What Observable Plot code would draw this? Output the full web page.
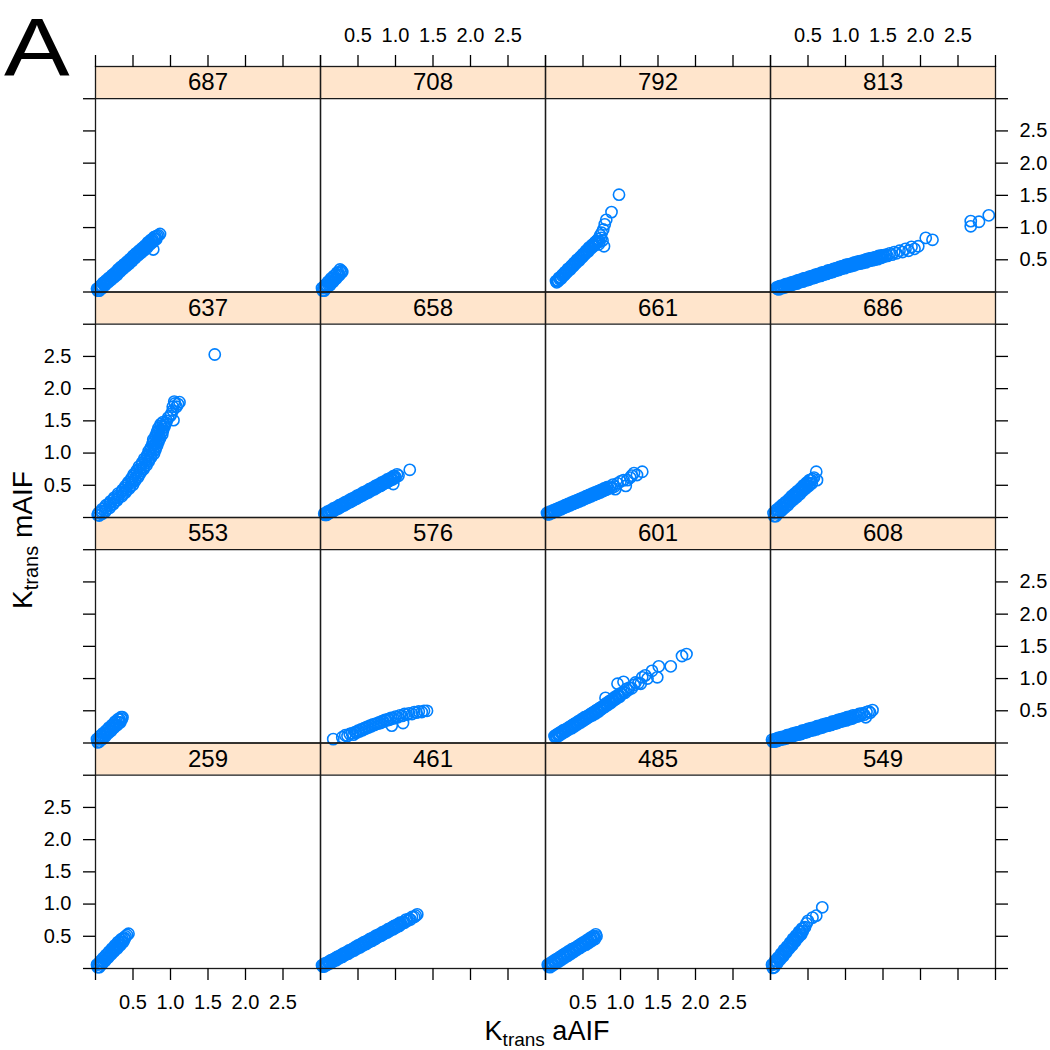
<!DOCTYPE html>
<html>
<head>
<meta charset="utf-8">
<script src="https://cdn.jsdelivr.net/npm/d3@7"></script>
<script src="https://cdn.jsdelivr.net/npm/@observablehq/plot@0.6"></script>
<style>
  html, body { margin: 0; padding: 0; background: #fff; }
  #wrap { position: relative; width: 1050px; height: 1050px; }
  #wrap > svg { position: absolute; left: 0; top: 0; }
  #overlay { pointer-events: none; }
</style>
</head>
<body>
<div id="wrap"></div>
<script>
// ---- Panel identifiers (layout rows from top) ----
const panelRows = [
  ["687", "708", "792", "813"],
  ["637", "658", "661", "686"],
  ["553", "576", "601", "608"],
  ["259", "461", "485", "549"]
];

// ---- Tick values / labels (shared by x and y) ----
const tickValues = [0, 0.5, 1, 1.5, 2, 2.5, 3];
const tickLabels = ["", "0.5", "1.0", "1.5", "2.0", "2.5", ""];

// ---- Data: [Ktrans aAIF, Ktrans mAIF] per panel ----
const p687 = [[.02,.05],[.03,.02],[.04,.06],[.05,.02],[.06,.09],[.07,.06],[.08,.10],[.09,.06],[.10,.14],[.11,.11],[.12,.15],[.13,.11],[.14,.18],[.15,.15],[.16,.19],[.17,.15],[.18,.22],[.19,.19],[.20,.23],[.21,.19],[.22,.26],[.23,.23],[.24,.27],[.25,.23],[.26,.30],[.27,.27],[.28,.31],[.29,.27],[.30,.35],[.31,.32],[.32,.36],[.33,.32],[.34,.39],[.35,.36],[.36,.40],[.37,.36],[.38,.43],[.39,.40],[.40,.44],[.41,.40],[.42,.47],[.43,.44],[.44,.48],[.45,.44],[.46,.51],[.47,.48],[.48,.52],[.49,.48],[.50,.56],[.51,.53],[.52,.57],[.53,.53],[.54,.60],[.55,.57],[.56,.61],[.57,.57],[.58,.64],[.59,.61],[.60,.65],[.61,.61],[.62,.68],[.63,.65],[.64,.69],[.65,.65],[.66,.72],[.67,.69],[.68,.73],[.69,.69],[.70,.77],[.71,.74],[.72,.78],[.73,.74],[.74,.81],[.75,.78],[.76,.82],[.77,.78],[.78,.85],[.79,.82],[.80,.86],[.81,.82],[.82,.87],[.84,.88],[.86,.90],[.77,.66]];
const p708 = [[.02,.06],[.03,.02],[.04,.07],[.05,.02],[.06,.11],[.07,.06],[.08,.11],[.09,.07],[.10,.16],[.11,.11],[.12,.16],[.13,.11],[.14,.21],[.15,.16],[.16,.21],[.17,.16],[.18,.25],[.19,.20],[.20,.26],[.21,.21],[.22,.30],[.23,.25],[.24,.30],[.25,.26],[.26,.35],[.27,.30],[.28,.33],[.29,.31]];
const p792 = [[.14,.17],[.15,.15],[.16,.18],[.17,.17],[.18,.22],[.19,.20],[.20,.23],[.21,.21],[.22,.26],[.23,.25],[.24,.28],[.25,.26],[.26,.31],[.27,.29],[.28,.32],[.29,.31],[.30,.36],[.31,.34],[.32,.37],[.33,.35],[.34,.40],[.35,.39],[.36,.42],[.37,.40],[.38,.45],[.39,.43],[.40,.46],[.41,.45],[.42,.50],[.43,.48],[.44,.51],[.45,.49],[.46,.54],[.47,.53],[.48,.56],[.49,.54],[.50,.59],[.51,.57],[.52,.60],[.53,.59],[.54,.64],[.55,.62],[.56,.65],[.57,.63],[.58,.69],[.59,.67],[.60,.70],[.61,.68],[.62,.73],[.63,.71],[.64,.74],[.65,.72],[.66,.77],[.67,.76],[.68,.79],[.69,.77],[.70,.82],[.72,.78],[.74,.84],[.71,.74],[.76,.80],[.73,.88],[.75,.92],[.78,.71],[.77,.97],[.79,1.05],[.81,1.12],[.88,1.24],[.98,1.51]];
const p813 = [[.08,.07],[.09,.05],[.10,.07],[.11,.04],[.12,.09],[.13,.06],[.14,.09],[.15,.06],[.16,.10],[.17,.08],[.18,.10],[.19,.07],[.20,.12],[.21,.09],[.22,.12],[.23,.09],[.24,.13],[.25,.11],[.26,.13],[.27,.10],[.28,.15],[.29,.12],[.30,.15],[.31,.12],[.32,.16],[.33,.14],[.34,.16],[.35,.13],[.36,.18],[.37,.15],[.38,.18],[.39,.15],[.40,.19],[.41,.17],[.42,.19],[.43,.16],[.44,.21],[.45,.18],[.46,.21],[.47,.18],[.48,.22],[.49,.20],[.50,.22],[.51,.19],[.52,.24],[.53,.21],[.54,.24],[.55,.21],[.56,.25],[.57,.23],[.58,.25],[.59,.22],[.60,.27],[.61,.24],[.62,.27],[.63,.24],[.64,.28],[.65,.26],[.66,.28],[.67,.25],[.68,.30],[.69,.27],[.70,.30],[.71,.27],[.72,.31],[.73,.29],[.74,.31],[.75,.28],[.76,.33],[.77,.30],[.78,.33],[.79,.30],[.80,.34],[.81,.32],[.82,.34],[.83,.31],[.84,.36],[.85,.33],[.86,.36],[.87,.33],[.88,.37],[.89,.35],[.90,.37],[.91,.34],[.92,.39],[.93,.36],[.94,.39],[.95,.36],[.96,.40],[.97,.38],[.98,.40],[.99,.37],[1.00,.42],[1.01,.39],[1.02,.42],[1.03,.39],[1.04,.43],[1.05,.41],[1.06,.43],[1.07,.40],[1.08,.44],[1.09,.42],[1.10,.44],[1.11,.41],[1.12,.46],[1.13,.43],[1.14,.45],[1.15,.43],[1.16,.47],[1.17,.44],[1.18,.47],[1.19,.44],[1.20,.48],[1.21,.46],[1.22,.48],[1.23,.45],[1.24,.49],[1.25,.47],[1.26,.49],[1.27,.46],[1.28,.51],[1.29,.48],[1.30,.50],[1.31,.48],[1.32,.52],[1.33,.49],[1.34,.52],[1.35,.49],[1.36,.53],[1.37,.51],[1.38,.53],[1.39,.50],[1.40,.54],[1.41,.52],[1.42,.54],[1.43,.51],[1.44,.56],[1.45,.53],[1.46,.55],[1.47,.53],[1.48,.57],[1.49,.54],[1.50,.57],[1.52,.55],[1.54,.58],[1.56,.56],[1.59,.60],[1.62,.58],[1.65,.62],[1.68,.60],[1.72,.64],[1.76,.62],[1.80,.67],[1.84,.64],[1.88,.70],[1.92,.67],[1.97,.71],[2.07,.84],[2.16,.81],[2.67,1.10],[2.67,1.02],[2.78,1.09],[2.91,1.19]];
const p637 = [[.05,.03],[.03,.04],[.09,.06],[.04,.07],[.13,.09],[.08,.10],[.14,.12],[.09,.13],[.19,.15],[.13,.16],[.19,.18],[.14,.19],[.24,.21],[.19,.22],[.25,.24],[.20,.25],[.29,.27],[.24,.28],[.30,.30],[.25,.31],[.35,.33],[.30,.34],[.36,.36],[.30,.37],[.40,.39],[.35,.40],[.41,.42],[.36,.43],[.45,.45],[.40,.46],[.46,.48],[.40,.49],[.50,.51],[.44,.52],[.49,.54],[.44,.55],[.53,.57],[.48,.58],[.53,.60],[.48,.61],[.57,.63],[.51,.64],[.57,.66],[.51,.67],[.60,.69],[.55,.70],[.60,.72],[.55,.73],[.64,.75],[.59,.76],[.64,.78],[.58,.79],[.68,.81],[.62,.82],[.67,.84],[.62,.85],[.71,.87],[.66,.88],[.71,.90],[.65,.91],[.74,.93],[.69,.94],[.74,.96],[.69,.97],[.78,.99],[.72,1.00],[.77,1.02],[.71,1.03],[.80,1.05],[.74,1.06],[.79,1.08],[.74,1.09],[.82,1.11],[.77,1.12],[.81,1.14],[.76,1.15],[.84,1.17],[.78,1.18],[.83,1.20],[.77,1.21],[.86,1.23],[.81,1.24],[.85,1.26],[.80,1.27],[.89,1.29],[.83,1.30],[.88,1.32],[.82,1.33],[.90,1.35],[.85,1.36],[.89,1.38],[.84,1.39],[.92,1.41],[.87,1.42],[.92,1.44],[.87,1.45],[.94,1.47],[.90,1.48],[.95,1.50],[.97,1.55],[1.00,1.58],[1.01,1.61],[1.04,1.51],[1.03,1.66],[1.03,1.72],[1.06,1.77],[1.08,1.72],[1.10,1.76],[1.12,1.79],[1.05,1.80],[1.59,2.53]];
const p658 = [[.05,.06],[.06,.04],[.07,.06],[.08,.04],[.09,.09],[.10,.06],[.11,.09],[.12,.07],[.13,.11],[.14,.09],[.15,.11],[.16,.09],[.17,.14],[.18,.11],[.19,.14],[.20,.12],[.21,.16],[.22,.14],[.23,.16],[.24,.14],[.25,.19],[.26,.16],[.27,.19],[.28,.17],[.29,.21],[.30,.19],[.31,.21],[.32,.19],[.33,.24],[.34,.21],[.35,.24],[.36,.22],[.37,.26],[.38,.24],[.39,.26],[.40,.24],[.41,.29],[.42,.26],[.43,.29],[.44,.27],[.45,.31],[.46,.29],[.47,.31],[.48,.29],[.49,.34],[.50,.31],[.51,.34],[.52,.32],[.53,.36],[.54,.34],[.55,.36],[.56,.34],[.57,.39],[.58,.36],[.59,.39],[.60,.37],[.61,.41],[.62,.39],[.63,.41],[.64,.39],[.65,.44],[.66,.41],[.67,.44],[.68,.42],[.69,.46],[.70,.44],[.71,.46],[.72,.44],[.73,.49],[.74,.46],[.75,.49],[.76,.47],[.77,.51],[.78,.49],[.79,.51],[.80,.49],[.81,.54],[.82,.51],[.83,.54],[.84,.52],[.85,.56],[.86,.54],[.87,.56],[.88,.54],[.89,.59],[.90,.56],[.91,.59],[.92,.57],[.93,.61],[.94,.59],[.95,.61],[.96,.59],[.97,.64],[.98,.61],[.99,.64],[1.00,.62],[1.02,.67],[1.04,.65],[.97,.52],[1.19,.74]];
const p661 = [[.02,.07],[.03,.05],[.04,.07],[.05,.05],[.06,.09],[.07,.07],[.08,.09],[.09,.07],[.10,.11],[.11,.09],[.12,.11],[.13,.09],[.14,.13],[.15,.11],[.16,.13],[.17,.11],[.18,.15],[.19,.13],[.20,.15],[.21,.13],[.22,.17],[.23,.15],[.24,.17],[.25,.15],[.26,.19],[.27,.17],[.28,.19],[.29,.17],[.30,.21],[.31,.19],[.32,.21],[.33,.19],[.34,.23],[.35,.21],[.36,.23],[.37,.21],[.38,.25],[.39,.23],[.40,.25],[.41,.23],[.42,.27],[.43,.25],[.44,.27],[.45,.25],[.46,.29],[.47,.27],[.48,.29],[.49,.27],[.50,.31],[.51,.29],[.52,.31],[.53,.29],[.54,.33],[.55,.31],[.56,.33],[.57,.31],[.58,.35],[.59,.33],[.60,.35],[.61,.33],[.62,.37],[.63,.35],[.64,.37],[.65,.35],[.66,.39],[.67,.37],[.68,.39],[.69,.37],[.70,.41],[.71,.39],[.72,.41],[.73,.39],[.74,.43],[.75,.41],[.76,.43],[.77,.41],[.78,.45],[.79,.43],[.80,.45],[.81,.43],[.82,.47],[.84,.45],[.86,.48],[.88,.46],[.90,.51],[.93,.44],[.92,.48],[.96,.53],[1.00,.56],[1.04,.58],[1.07,.49],[1.09,.58],[1.13,.62],[1.15,.65],[1.18,.69],[1.22,.66],[1.29,.71]];
const p686 = [[.04,.07],[.05,.02],[.06,.07],[.07,.02],[.08,.12],[.09,.07],[.10,.12],[.11,.07],[.12,.16],[.13,.11],[.14,.16],[.15,.11],[.16,.20],[.17,.15],[.18,.20],[.19,.15],[.20,.24],[.21,.19],[.22,.24],[.23,.19],[.24,.28],[.25,.24],[.26,.29],[.27,.24],[.28,.33],[.29,.28],[.30,.33],[.31,.28],[.32,.37],[.33,.32],[.34,.37],[.35,.32],[.36,.41],[.37,.36],[.38,.41],[.39,.36],[.40,.45],[.41,.41],[.42,.46],[.43,.41],[.44,.50],[.45,.45],[.46,.50],[.47,.45],[.48,.54],[.49,.49],[.50,.54],[.51,.49],[.52,.58],[.53,.53],[.54,.58],[.55,.53],[.56,.60],[.58,.62],[.62,.58],[.61,.71]];
const p553 = [[.02,.06],[.03,.01],[.04,.06],[.05,.02],[.06,.11],[.07,.06],[.08,.11],[.09,.06],[.10,.15],[.11,.10],[.12,.15],[.13,.10],[.14,.19],[.15,.15],[.16,.20],[.17,.15],[.18,.24],[.19,.19],[.20,.24],[.21,.19],[.22,.28],[.23,.23],[.24,.28],[.25,.24],[.26,.33],[.27,.28],[.28,.33],[.29,.28],[.30,.37],[.31,.32],[.32,.37],[.33,.32],[.34,.40],[.35,.37],[.36,.40]];
const p576 = [[.17,.06],[.29,.09],[.33,.12],[.36,.11],[.39,.14],[.42,.15],[.44,.13],[.46,.17],[.48,.16],[.50,.19],[.52,.18],[.54,.21],[.56,.20],[.58,.23],[.60,.22],[.62,.25],[.64,.24],[.66,.27],[.68,.26],[.70,.29],[.72,.28],[.74,.30],[.76,.30],[.78,.32],[.80,.31],[.82,.34],[.84,.33],[.86,.36],[.88,.35],[.90,.37],[.92,.36],[.95,.27],[.94,.39],[.97,.38],[1.00,.41],[1.03,.40],[1.06,.43],[1.10,.31],[1.09,.42],[1.12,.45],[1.15,.44],[1.18,.46],[1.22,.45],[1.25,.48],[1.28,.47],[1.31,.49],[1.35,.48],[1.38,.50],[1.42,.50]];
const p601 = [[.12,.11],[.13,.09],[.14,.12],[.15,.09],[.16,.14],[.17,.12],[.18,.14],[.19,.12],[.20,.17],[.21,.15],[.22,.17],[.23,.15],[.24,.20],[.25,.17],[.26,.20],[.27,.18],[.28,.22],[.29,.20],[.30,.23],[.31,.21],[.32,.25],[.33,.23],[.34,.26],[.35,.23],[.36,.28],[.37,.26],[.38,.29],[.39,.26],[.40,.31],[.41,.29],[.42,.31],[.43,.29],[.44,.34],[.45,.32],[.46,.34],[.47,.32],[.48,.37],[.49,.34],[.50,.37],[.51,.35],[.52,.40],[.53,.37],[.54,.40],[.55,.38],[.56,.42],[.57,.40],[.58,.43],[.59,.41],[.60,.45],[.61,.43],[.62,.46],[.63,.43],[.64,.48],[.65,.46],[.66,.49],[.67,.46],[.68,.51],[.69,.49],[.70,.52],[.71,.49],[.72,.54],[.73,.52],[.74,.55],[.75,.53],[.76,.57],[.77,.55],[.78,.58],[.79,.56],[.80,.61],[.81,.59],[.82,.61],[.83,.59],[.84,.64],[.85,.62],[.86,.65],[.87,.62],[.88,.67],[.89,.65],[.90,.68],[.91,.66],[.92,.71],[.93,.68],[.94,.71],[.95,.69],[.96,.74],[.97,.72],[.98,.74],[.99,.72],[1.00,.77],[1.02,.76],[1.04,.79],[1.06,.78],[1.08,.84],[1.10,.82],[1.12,.86],[1.15,.85],[.80,.70],[.96,.92],[1.04,.95],[1.18,.90],[1.20,.94],[1.24,.93],[1.27,.92],[1.29,1.02],[1.33,1.05],[1.36,1.00],[1.42,1.12],[1.49,1.02],[1.51,1.19],[1.67,1.19],[1.82,1.35],[1.88,1.38]];
const p608 = [[.02,.05],[.03,.02],[.04,.04],[.05,.02],[.06,.06],[.07,.03],[.08,.06],[.09,.03],[.10,.08],[.11,.05],[.12,.07],[.13,.05],[.14,.09],[.15,.06],[.16,.09],[.17,.06],[.18,.10],[.19,.08],[.20,.10],[.21,.07],[.22,.12],[.23,.09],[.24,.11],[.25,.09],[.26,.13],[.27,.10],[.28,.13],[.29,.10],[.30,.15],[.31,.12],[.32,.14],[.33,.12],[.34,.16],[.35,.13],[.36,.16],[.37,.13],[.38,.17],[.39,.15],[.40,.17],[.41,.14],[.42,.19],[.43,.16],[.44,.18],[.45,.16],[.46,.20],[.47,.17],[.48,.20],[.49,.17],[.50,.22],[.51,.19],[.52,.21],[.53,.19],[.54,.23],[.55,.20],[.56,.23],[.57,.20],[.58,.24],[.59,.22],[.60,.24],[.61,.21],[.62,.26],[.63,.23],[.64,.25],[.65,.23],[.66,.27],[.67,.24],[.68,.27],[.69,.24],[.70,.29],[.71,.26],[.72,.28],[.73,.26],[.74,.30],[.75,.27],[.76,.30],[.77,.27],[.78,.31],[.79,.29],[.80,.31],[.81,.28],[.82,.33],[.83,.30],[.84,.32],[.85,.30],[.86,.34],[.87,.31],[.88,.34],[.89,.31],[.90,.36],[.91,.33],[.92,.35],[.93,.33],[.94,.37],[.95,.34],[.96,.37],[.97,.34],[.98,.38],[.99,.36],[1.00,.38],[1.01,.35],[1.02,.40],[1.03,.37],[1.04,.39],[1.05,.37],[1.06,.41],[1.07,.38],[1.08,.41],[1.09,.38],[1.10,.43],[1.12,.40],[1.14,.43],[1.16,.41],[1.18,.45],[1.20,.43],[1.22,.46],[1.25,.44],[1.27,.40],[1.28,.48],[1.31,.49],[1.33,.47],[1.36,.51]];
const p259 = [[.02,.06],[.03,.02],[.04,.07],[.05,.02],[.06,.11],[.07,.07],[.08,.12],[.09,.07],[.10,.16],[.11,.11],[.12,.17],[.13,.12],[.14,.21],[.15,.16],[.16,.22],[.17,.17],[.18,.26],[.19,.21],[.20,.26],[.21,.22],[.22,.31],[.23,.26],[.24,.31],[.25,.27],[.26,.36],[.27,.31],[.28,.36],[.29,.31],[.30,.41],[.31,.36],[.32,.41],[.33,.36],[.34,.45],[.35,.41],[.36,.46],[.37,.41],[.38,.48],[.39,.46],[.40,.50],[.42,.52],[.44,.54]];
const p461 = [[.02,.05],[.03,.03],[.04,.06],[.05,.03],[.06,.08],[.07,.05],[.08,.08],[.09,.06],[.10,.10],[.11,.08],[.12,.11],[.13,.08],[.14,.13],[.15,.10],[.16,.13],[.17,.11],[.18,.15],[.19,.13],[.20,.16],[.21,.13],[.22,.18],[.23,.16],[.24,.18],[.25,.16],[.26,.20],[.27,.18],[.28,.21],[.29,.18],[.30,.23],[.31,.21],[.32,.23],[.33,.21],[.34,.25],[.35,.23],[.36,.26],[.37,.23],[.38,.28],[.39,.26],[.40,.28],[.41,.26],[.42,.30],[.43,.28],[.44,.31],[.45,.28],[.46,.33],[.47,.31],[.48,.33],[.49,.31],[.50,.36],[.51,.33],[.52,.36],[.53,.33],[.54,.38],[.55,.36],[.56,.38],[.57,.36],[.58,.41],[.59,.38],[.60,.41],[.61,.38],[.62,.43],[.63,.41],[.64,.43],[.65,.41],[.66,.46],[.67,.43],[.68,.46],[.69,.43],[.70,.48],[.71,.46],[.72,.48],[.73,.46],[.74,.51],[.75,.48],[.76,.51],[.77,.49],[.78,.53],[.79,.51],[.80,.53],[.81,.51],[.82,.56],[.83,.53],[.84,.56],[.85,.54],[.86,.58],[.87,.56],[.88,.58],[.89,.56],[.90,.61],[.91,.58],[.92,.61],[.93,.59],[.94,.63],[.95,.61],[.96,.64],[.97,.61],[.98,.66],[.99,.63],[1.00,.66],[1.01,.64],[1.02,.68],[1.03,.66],[1.04,.69],[1.05,.66],[1.06,.71],[1.08,.69],[1.10,.72],[1.12,.71],[1.14,.76],[1.16,.74],[1.18,.77],[1.20,.76],[1.22,.80],[1.25,.80],[1.27,.82],[1.29,.84]];
const p485 = [[.03,.06],[.04,.03],[.05,.06],[.06,.02],[.07,.09],[.08,.06],[.09,.09],[.10,.05],[.11,.12],[.12,.09],[.13,.12],[.14,.08],[.15,.15],[.16,.12],[.17,.14],[.18,.11],[.19,.18],[.20,.15],[.21,.17],[.22,.14],[.23,.21],[.24,.18],[.25,.20],[.26,.17],[.27,.24],[.28,.20],[.29,.23],[.30,.20],[.31,.27],[.32,.23],[.33,.26],[.34,.23],[.35,.30],[.36,.26],[.37,.29],[.38,.26],[.39,.32],[.40,.29],[.41,.32],[.42,.29],[.43,.35],[.44,.32],[.45,.35],[.46,.32],[.47,.38],[.48,.35],[.49,.38],[.50,.35],[.51,.41],[.52,.38],[.53,.41],[.54,.37],[.55,.44],[.56,.41],[.57,.44],[.58,.40],[.59,.47],[.60,.44],[.61,.47],[.62,.43],[.63,.50],[.64,.47],[.65,.50],[.66,.46],[.67,.53],[.68,.50]];
const p549 = [[.02,.06],[.03,.01],[.04,.07],[.05,.02],[.06,.12],[.07,.07],[.08,.12],[.09,.08],[.10,.17],[.11,.13],[.12,.18],[.13,.14],[.14,.23],[.15,.18],[.16,.24],[.17,.19],[.18,.29],[.19,.24],[.20,.29],[.21,.25],[.22,.34],[.23,.30],[.24,.35],[.25,.31],[.26,.40],[.27,.35],[.28,.41],[.29,.36],[.30,.46],[.31,.41],[.32,.46],[.33,.42],[.34,.51],[.35,.47],[.36,.52],[.37,.48],[.38,.57],[.39,.52],[.40,.58],[.41,.53],[.42,.62],[.43,.58],[.44,.63],[.46,.64],[.48,.70],[.50,.74],[.56,.79],[.61,.82],[.69,.95]];

const panelData = {
  "687": p687, "708": p708, "792": p792, "813": p813,
  "637": p637, "658": p658, "661": p661, "686": p686,
  "553": p553, "576": p576, "601": p601, "608": p608,
  "259": p259, "461": p461, "485": p485, "549": p549
};

// ---- Derived tables for Plot ----
const panels = panelRows.flatMap((r, row) => r.map((id, col) => ({id, row, col})));
const points = panels.flatMap(p => panelData[p.id].map(([x, y]) => ({x, y, row: p.row, col: p.col})));
const labelled = tickValues.map((v, i) => ({v, label: tickLabels[i]})).filter(d => d.label !== "");
const labelsFor = (cells) => cells.flatMap(([row, col]) => labelled.map(d => ({...d, row, col})));
const topLabels = labelsFor([[0, 1], [0, 3]]);
const bottomLabels = labelsFor([[3, 0], [3, 2]]);
const leftLabels = labelsFor([[1, 0], [3, 0]]);
const rightLabels = labelsFor([[0, 3], [2, 3]]);

const dataMax = 3;      // top of the data area of each panel
const stripTop = 3.5;   // strip occupies the band above the data area
const lineColor = "#1a1a1a";
const pointColor = "#0080ff";
const stripColor = "#ffe5cc";

const chart = Plot.plot({
  width: 1050,
  height: 1050,
  marginTop: 66,
  marginBottom: 82,
  marginLeft: 95,
  marginRight: 55,
  x: {domain: [0, dataMax], axis: null, label: null},
  y: {domain: [0, stripTop], axis: null, label: null},
  fx: {domain: [0, 1, 2, 3], padding: 0, axis: null, round: false},
  fy: {domain: [0, 1, 2, 3], padding: 0, axis: null, round: false},
  style: {fontFamily: "'Liberation Sans', Arial, Helvetica, sans-serif", fontSize: "20px", color: "#000", background: "transparent"},
  marks: [
    Plot.rect(panels, {fx: "col", fy: "row", x1: 0, x2: dataMax, y1: dataMax, y2: stripTop, fill: stripColor}),
    Plot.ruleY(panels, {fx: "col", fy: "row", y: () => dataMax, stroke: lineColor, strokeWidth: 1.3}),
    Plot.text(panels, {fx: "col", fy: "row", text: "id", frameAnchor: "top", lineAnchor: "middle", dy: 16, fontSize: 24}),
    Plot.dot(points, {x: "x", y: "y", fx: "col", fy: "row", r: 5.6, stroke: pointColor, strokeWidth: 1.6, fill: "none"}),
    Plot.frame({stroke: lineColor, strokeWidth: 1.3}),
    Plot.axisX(tickValues, {anchor: "top", facetAnchor: "top", tickSize: 12, tickFormat: () => "", label: null, strokeWidth: 1.3}),
    Plot.axisX(tickValues, {anchor: "bottom", facetAnchor: "bottom", tickSize: 12, tickFormat: () => "", label: null, strokeWidth: 1.3}),
    Plot.axisY(tickValues, {anchor: "left", facetAnchor: "left", tickSize: 12, tickFormat: () => "", label: null, strokeWidth: 1.3}),
    Plot.axisY(tickValues, {anchor: "right", facetAnchor: "right", tickSize: 12, tickFormat: () => "", label: null, strokeWidth: 1.3}),
    Plot.text(topLabels, {x: "v", fx: "col", fy: "row", text: "label", frameAnchor: "top", lineAnchor: "middle", dy: -31}),
    Plot.text(bottomLabels, {x: "v", fx: "col", fy: "row", text: "label", frameAnchor: "bottom", lineAnchor: "middle", dy: 34}),
    Plot.text(leftLabels, {y: "v", fx: "col", fy: "row", text: "label", frameAnchor: "left", textAnchor: "end", dx: -24}),
    Plot.text(rightLabels, {y: "v", fx: "col", fy: "row", text: "label", frameAnchor: "right", textAnchor: "start", dx: 24})
  ]
});

const wrap = document.getElementById("wrap");
wrap.appendChild(chart);

// ---- Figure letter and axis titles ----
const ns = "http://www.w3.org/2000/svg";
const overlay = document.createElementNS(ns, "svg");
overlay.setAttribute("id", "overlay");
overlay.setAttribute("width", 1050);
overlay.setAttribute("height", 1050);
overlay.setAttribute("font-family", "'Liberation Sans', Arial, Helvetica, sans-serif");
overlay.innerHTML = `
  <text transform="translate(4,75) scale(1.2,1)" font-size="82">A</text>
  <text x="547" y="1040" font-size="27" text-anchor="middle">K<tspan font-size="19" dy="6">trans</tspan><tspan dy="-6"> aAIF</tspan></text>
  <text transform="translate(32,540) rotate(-90)" font-size="28" text-anchor="middle">K<tspan font-size="20" dy="6">trans</tspan><tspan dy="-6"> mAIF</tspan></text>
`;
wrap.appendChild(overlay);
</script>
</body>
</html>
